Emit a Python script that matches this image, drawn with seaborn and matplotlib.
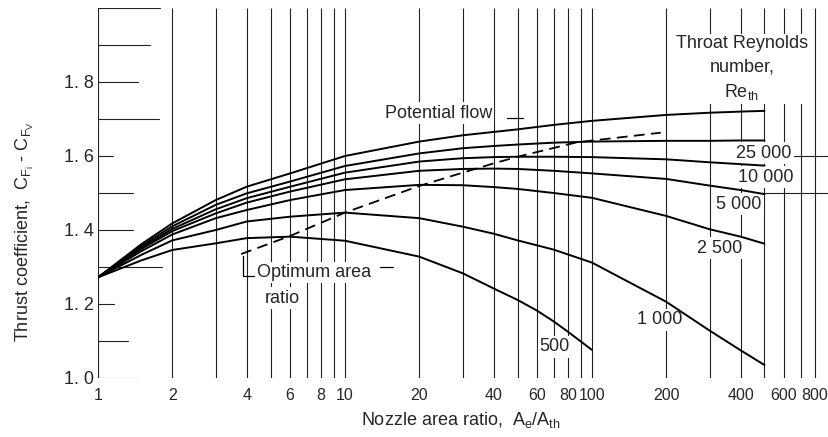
import numpy as np
import pandas as pd
import seaborn as sns
import matplotlib.pyplot as plt
from matplotlib.ticker import NullLocator

# nozzle area ratio Ae/Ath where the curves were read
area_ratio = [1, 1.5, 2, 3, 4, 6, 10, 20, 30, 40, 50, 70, 100, 200, 300, 400, 500]
potential_flow = [1.272, 1.362, 1.418, 1.481, 1.517, 1.553, 1.600, 1.639, 1.656, 1.665, 1.672, 1.684, 1.695, 1.711, 1.717, 1.720, 1.722]
re_25000 = [1.272, 1.357, 1.410, 1.468, 1.499, 1.531, 1.573, 1.607, 1.621, 1.627, 1.631, 1.636, 1.639, 1.641, 1.641, 1.642, 1.642]
re_10000 = [1.272, 1.353, 1.403, 1.456, 1.486, 1.517, 1.555, 1.585, 1.594, 1.597, 1.598, 1.598, 1.597, 1.591, 1.583, 1.578, 1.574]
re_5000 = [1.272, 1.349, 1.397, 1.445, 1.474, 1.504, 1.537, 1.560, 1.565, 1.566, 1.565, 1.560, 1.553, 1.538, 1.520, 1.508, 1.497]
re_2500 = [1.272, 1.343, 1.388, 1.432, 1.454, 1.481, 1.508, 1.522, 1.521, 1.516, 1.511, 1.500, 1.487, 1.438, 1.402, 1.382, 1.363]
re_1000 = [1.272, 1.333, 1.372, 1.400, 1.423, 1.436, 1.447, 1.432, 1.409, 1.390, 1.372, 1.347, 1.312, 1.206, 1.128, 1.075, 1.035]

area_ratio_500 = [1, 1.5, 2, 3, 4, 6, 10, 20, 30, 40, 50, 60, 70, 80, 100]
re_500 = [1.272, 1.318, 1.346, 1.364, 1.378, 1.382, 1.371, 1.328, 1.283, 1.242, 1.211, 1.182, 1.153, 1.125, 1.076]

# optimum area ratio (dashed)
opt_ratio = [3.8, 6, 10, 20, 30, 40, 50, 87, 190]
opt_cf = [1.335, 1.384, 1.447, 1.519, 1.555, 1.580, 1.598, 1.637, 1.663]

curve_labels = ["25 000", "10 000", "5 000", "2 500", "1 000", "500"]

x_ticks = [1, 2, 4, 6, 8, 10, 20, 40, 60, 80, 100, 200, 400, 600, 800]
y_ticks = [1.0, 1.2, 1.4, 1.6, 1.8]
y_tick_labels = ["1. 0", "1. 2", "1. 4", "1. 6", "1. 8"]
grid_x = list(range(1, 10)) + list(range(10, 100, 10)) + list(range(100, 900, 100))

frames = []
for name, vals in [("pf", potential_flow), ("25000", re_25000), ("10000", re_10000),
                   ("5000", re_5000), ("2500", re_2500), ("1000", re_1000)]:
    frames.append(pd.DataFrame({"ratio": area_ratio, "cf": vals, "curve": name}))
frames.append(pd.DataFrame({"ratio": area_ratio_500, "cf": re_500, "curve": "500"}))
df = pd.concat(frames, ignore_index=True)
opt = pd.DataFrame({"ratio": opt_ratio, "cf": opt_cf})

sns.set_style("white")
plt.rcParams["font.family"] = ["Liberation Sans", "DejaVu Sans"]
plt.rcParams["mathtext.default"] = "regular"
FS = 13

fig = plt.figure(figsize=(8.29, 4.37), dpi=100)
ax = fig.add_axes([98 / 829, 1 - 378 / 437, 0.880, 370 / 437])
ax.set_xscale("log")
ax.set_xlim(1, 900)
ax.set_ylim(1.0, 2.0)

# grid lines of the paper
ax.vlines(grid_x, 1.0, 2.0, color="#222222", lw=0.8, zorder=0)
stub_y = [1.0, 1.1, 1.2, 1.3, 1.4, 1.5, 1.6, 1.7, 1.8, 1.9, 2.0]
stub_end = [1.45, 1.32, 1.16, 1.82, 1.38, 1.38, 1.15, 1.76, 1.45, 1.63, 1.79]
for y, xe in zip(stub_y, stub_end):
    ax.plot([1, xe], [y, y], color="#222222", lw=0.8, zorder=0)
ax.plot([492, 900], [1.5, 1.5], color="#222222", lw=0.8, zorder=0)
ax.plot([651, 900], [1.6, 1.6], color="#222222", lw=0.8, zorder=0)

sns.lineplot(data=df, x="ratio", y="cf", units="curve", estimator=None, sort=False,
             color="black", lw=1.4, ax=ax, zorder=3)
sns.lineplot(data=opt, x="ratio", y="cf", color="black", lw=1.3, sort=False,
             dashes=False, ax=ax, zorder=3, linestyle=(0, (6, 3.5)))

box = dict(boxstyle="square,pad=0.12", fc="white", ec="none")
ax.text(14.5, 1.716, "Potential flow", fontsize=FS, ha="left", va="center", bbox=box, zorder=2)
ax.plot([45.3, 52.6], [1.703, 1.703], color="black", lw=0.9, zorder=2)

ax.text(405, 1.836, "Throat Reynolds\nnumber,\nRe$_{th}$", fontsize=FS, ha="center",
        va="center", linespacing=1.45, bbox=box, zorder=2)

label_pos = [(497, 1.608), (506, 1.543), (394, 1.470), (330, 1.351), (188, 1.157), (70.8, 1.084)]
for lab, (lx, ly) in zip(curve_labels, label_pos):
    ax.text(lx, ly, lab, fontsize=FS, ha="center", va="center", bbox=box, zorder=2)

# optimum area ratio leader
ax.plot([3.85, 3.85, 4.35], [1.330, 1.277, 1.277], color="black", lw=0.9, zorder=2)
ax.text(4.4, 1.285, "Optimum area", fontsize=FS, ha="left", va="center", bbox=box, zorder=2)
ax.plot([13.9, 15.6], [1.299, 1.299], color="black", lw=0.9, zorder=2)
ax.text(5.56, 1.216, "ratio", fontsize=FS, ha="center", va="center", bbox=box, zorder=2)

ax.xaxis.set_minor_locator(NullLocator())
ax.set_xticks(x_ticks)
ax.set_xticklabels([str(t) for t in x_ticks])
ax.set_yticks(y_ticks)
ax.set_yticklabels(y_tick_labels)
ax.tick_params(axis="x", length=0, pad=7, labelsize=11.5)
ax.tick_params(axis="y", length=0, pad=3, labelsize=FS)
for s in ax.spines.values():
    s.set_visible(False)
ax.set_xlabel("")
ax.set_ylabel("")

fig.text(461 / 829, 1 - 420 / 437, "Nozzle area ratio,  A$_e$/A$_{th}$", fontsize=FS,
         ha="center", va="center")
fig.text(25 / 829, 1 - 232 / 437, "Thrust coefficient,  C$_{F_i}$ - C$_{F_V}$", fontsize=FS,
         ha="center", va="center", rotation=90)

fig.savefig("out.png", dpi=100)
